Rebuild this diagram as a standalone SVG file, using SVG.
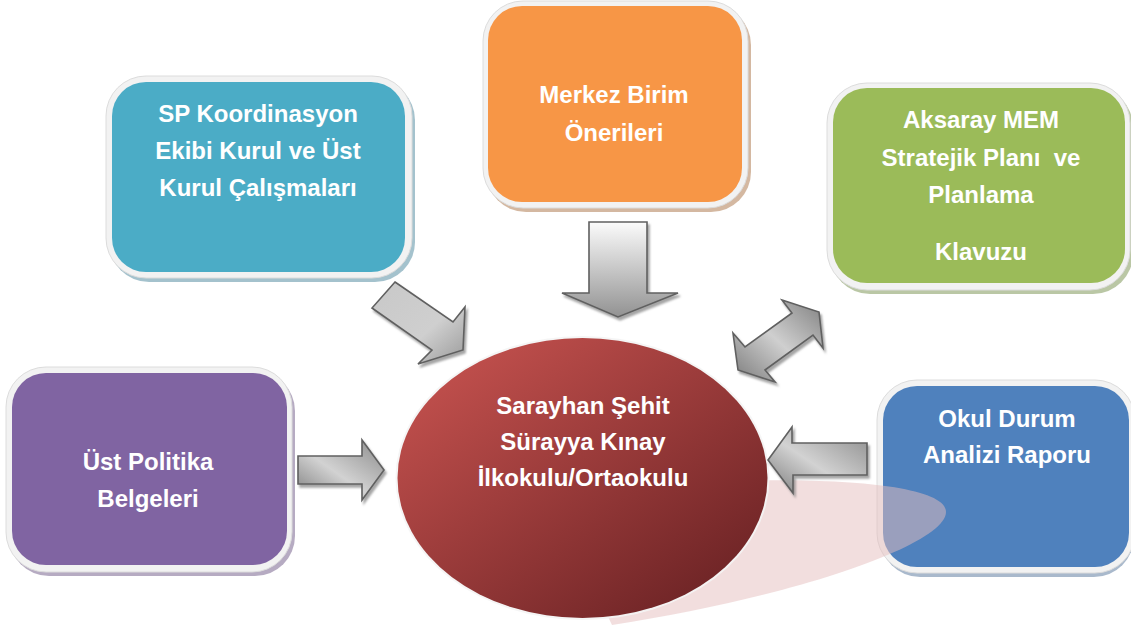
<svg xmlns="http://www.w3.org/2000/svg" width="1131" height="625" viewBox="0 0 1131 625">
<style>
.frame{fill:#f2f2f2;stroke:#dcdcdc;stroke-width:1}
.lbl{font-family:"Liberation Sans",Arial,sans-serif;font-weight:bold;font-size:24px;fill:#ffffff;text-anchor:middle}
.arrow{stroke:#606060;stroke-width:1.6;stroke-linejoin:miter;filter:url(#ash)}
</style>
<defs>
<linearGradient id="gDown" x1="0" y1="0" x2="0" y2="1">
<stop offset="0" stop-color="#fbfbfb"/><stop offset="1" stop-color="#929292"/>
</linearGradient>
<linearGradient id="gSide" x1="0" y1="1" x2="1" y2="0">
<stop offset="0" stop-color="#7c7c7c"/><stop offset="0.45" stop-color="#d2d2d2"/><stop offset="1" stop-color="#8a8a8a"/>
</linearGradient>
<linearGradient id="gDiag" x1="0" y1="0" x2="1" y2="1">
<stop offset="0" stop-color="#c8c8c8"/><stop offset="0.6" stop-color="#cfcfcf"/><stop offset="1" stop-color="#9a9a9a"/>
</linearGradient>
<linearGradient id="gDbl" x1="0" y1="1" x2="1" y2="0">
<stop offset="0" stop-color="#7a7a7a"/><stop offset="0.5" stop-color="#cfcfcf"/><stop offset="1" stop-color="#808080"/>
</linearGradient>
<linearGradient id="gCircle" x1="0.1" y1="0.1" x2="0.9" y2="0.95">
<stop offset="0" stop-color="#c2504d"/><stop offset="1" stop-color="#6a2224"/>
</linearGradient>
<filter id="ash" x="-20%" y="-20%" width="150%" height="150%">
<feDropShadow dx="2" dy="3" stdDeviation="1" flood-color="#7f7f7f" flood-opacity="0.7"/>
</filter>
</defs>
<rect width="1131" height="625" fill="#ffffff"/>

<g id="node-sp">
<rect x="109" y="80" width="306" height="202" rx="40" fill="#8db3c0" opacity="0.8"/>
<rect class="frame" x="106" y="76" width="306" height="202" rx="40"/>
<rect x="112" y="82" width="293" height="190" rx="34" fill="#4bacc6"/>
<text class="lbl" x="258" y="122">SP Koordinasyon</text>
<text class="lbl" x="258" y="159">Ekibi Kurul ve Üst</text>
<text class="lbl" x="258" y="196">Kurul Çalışmaları</text>
</g>

<g id="node-merkez">
<rect x="486" y="5" width="265" height="207" rx="40" fill="#c9a68a" opacity="0.8"/>
<rect class="frame" x="483" y="1" width="265" height="207" rx="40"/>
<rect x="488" y="6" width="254" height="196" rx="34" fill="#f79646"/>
<text class="lbl" x="614" y="103">Merkez Birim</text>
<text class="lbl" x="614" y="141">Önerileri</text>
</g>

<g id="node-aksaray">
<rect x="830" y="87" width="303" height="207" rx="40" fill="#a9b98f" opacity="0.8"/>
<rect class="frame" x="827" y="83" width="303" height="207" rx="40"/>
<rect x="833" y="88" width="292" height="195" rx="34" fill="#9bbb59"/>
<text class="lbl" x="981" y="128">Aksaray MEM</text>
<text class="lbl" x="981" y="166" xml:space="preserve">Stratejik Planı  ve</text>
<text class="lbl" x="981" y="203">Planlama</text>
<text class="lbl" x="981" y="260">Klavuzu</text>
</g>

<g id="node-okul">
<rect x="880" y="384" width="254" height="193" rx="40" fill="#93a7bf" opacity="0.8"/>
<rect class="frame" x="877" y="380" width="258" height="193" rx="40"/>
<rect x="883" y="386" width="246" height="181" rx="34" fill="#4f81bd"/>
<text class="lbl" x="1007" y="427">Okul Durum</text>
<text class="lbl" x="1007" y="463">Analizi Raporu</text>
</g>

<g id="node-ust">
<rect x="9" y="371" width="286" height="205" rx="40" fill="#a496b3" opacity="0.8"/>
<rect class="frame" x="6" y="367" width="286" height="205" rx="40"/>
<rect x="12" y="373" width="275" height="192" rx="34" fill="#8064a2"/>
<text class="lbl" x="148" y="470">Üst Politika</text>
<text class="lbl" x="148" y="507">Belgeleri</text>
</g>

<g id="node-center">
<path d="M 700 482 C 830 476 946 484 946 512 C 946 545 790 598 612 625 L 600 600 Z" fill="#e5bdbd" opacity="0.5"/>
<ellipse cx="582.5" cy="478" rx="187" ry="142" fill="#f4f4f4" opacity="0.9"/>
<ellipse cx="582.5" cy="478" rx="185" ry="140" fill="url(#gCircle)"/>
<text class="lbl" x="583" y="414">Sarayhan Şehit</text>
<text class="lbl" x="583" y="450">Sürayya Kınay</text>
<text class="lbl" x="583" y="486">İlkokulu/Ortaokulu</text>
</g>

<g id="connectors">
<polygon class="arrow" fill="url(#gDown)" points="589,222 647,222 647,293 678,293 618,317 562,293 589,293"/>
<polygon class="arrow" fill="url(#gDiag)" points="395,282 453,322 465,307 463,350 418,364 432,350 372,308"/>
<polygon class="arrow" fill="url(#gSide)" points="298,456 362,456 362,440 384,470 362,500 362,484 298,484"/>
<polygon class="arrow" fill="url(#gSide)" points="867,443 867,475 793,475 793,493 768,460 792,427 792,443"/>
<polygon class="arrow" fill="url(#gDbl)" points="782,300 819,312 823,348 813,335 765,370 775,382 738,370 733,333 745,347 792,313"/>
</g>
</svg>
